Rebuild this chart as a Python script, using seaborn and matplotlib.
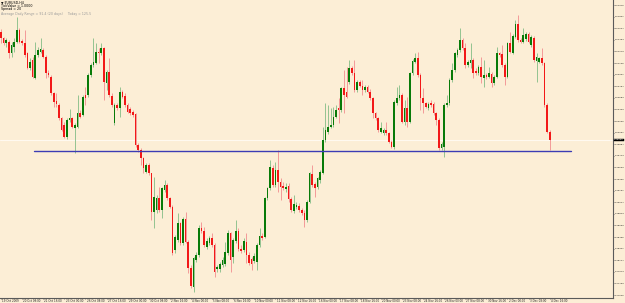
import matplotlib
matplotlib.use("Agg")
import matplotlib.pyplot as plt
import matplotlib.transforms as mtransforms
import numpy as np
import pandas as pd
import seaborn as sns

# ---------------- data (EURUSD H4 candles) ----------------
opens = [
    1.51575, 1.51475, 1.51400, 1.51425, 1.51250, 1.51340, 1.51425, 1.51600, 1.51440, 1.51400,
    1.51250, 1.51025, 1.51150, 1.50875, 1.51225, 1.51275, 1.51300, 1.51200, 1.50960, 1.50900,
    1.50650, 1.50540, 1.50475, 1.50275, 1.50175, 1.49990, 1.50250, 1.50275, 1.50125, 1.50150,
    1.50350, 1.50325, 1.50625, 1.50625, 1.50925, 1.51075, 1.51100, 1.51275, 1.51250, 1.51325,
    1.50800, 1.50975, 1.50610, 1.50200, 1.50475, 1.50425, 1.50675, 1.50610, 1.50475, 1.50410,
    1.50375, 1.50340, 1.49875, 1.49800, 1.49675, 1.49475, 1.49575, 1.49450, 1.48875, 1.48900,
    1.49075, 1.48900, 1.49200, 1.49275, 1.49075, 1.48950, 1.48300, 1.48450, 1.48700, 1.48400,
    1.48760, 1.48425, 1.48025, 1.47750, 1.48150, 1.48225, 1.48625, 1.48590, 1.48340, 1.48400,
    1.48475, 1.48375, 1.48020, 1.48010, 1.48075, 1.48090, 1.48260, 1.48560, 1.48200, 1.48440,
    1.48590, 1.48320, 1.48300, 1.48425, 1.48225, 1.48160, 1.48140, 1.48125, 1.48375, 1.48510,
    1.48490, 1.49075, 1.49225, 1.49525, 1.49275, 1.49500, 1.49325, 1.49260, 1.49220, 1.49260,
    1.49060, 1.48890, 1.48950, 1.48960, 1.48900, 1.48860, 1.48750, 1.49025, 1.49440, 1.49290,
    1.49240, 1.49350, 1.49460, 1.49950, 1.50075, 1.50150, 1.50175, 1.50300, 1.50425, 1.50400,
    1.50725, 1.50675, 1.50825, 1.51025, 1.50950, 1.50700, 1.50825, 1.50760, 1.50700, 1.50750,
    1.50675, 1.50575, 1.50350, 1.50275, 1.50075, 1.50060, 1.50100, 1.50050, 1.49925, 1.49840,
    1.50500, 1.50575, 1.50625, 1.50225, 1.50425, 1.50225, 1.50950, 1.51125, 1.51175, 1.50925,
    1.50575, 1.50500, 1.50425, 1.50510, 1.50490, 1.50350, 1.50250, 1.49825, 1.49850, 1.50470,
    1.50500, 1.50850, 1.51000, 1.51225, 1.51300, 1.51450, 1.51325, 1.51075, 1.51100, 1.51150,
    1.50990, 1.50950, 1.51040, 1.50880, 1.50920, 1.50890, 1.50940, 1.50800, 1.50890, 1.51250,
    1.51235, 1.51075, 1.50900, 1.51400, 1.51260, 1.51500, 1.51690, 1.51450, 1.51420, 1.51460,
    1.51540, 1.51375, 1.51475, 1.51140, 1.51125, 1.51175, 1.51100, 1.50475, 1.50075,
]
highs = [
    1.51610, 1.51500, 1.51475, 1.51450, 1.51425, 1.51475, 1.51800, 1.51625, 1.51460, 1.51600,
    1.51275, 1.51175, 1.51200, 1.51425, 1.51350, 1.51475, 1.51325, 1.51225, 1.51000, 1.50925,
    1.50675, 1.50650, 1.50500, 1.50300, 1.50225, 1.50275, 1.50410, 1.50300, 1.50200, 1.50625,
    1.50400, 1.50625, 1.50750, 1.50950, 1.51100, 1.51475, 1.51400, 1.51325, 1.51400, 1.51340,
    1.51000, 1.51175, 1.50650, 1.50500, 1.50500, 1.50750, 1.50700, 1.50650, 1.50500, 1.50450,
    1.50400, 1.50360, 1.49910, 1.49825, 1.49700, 1.49600, 1.49600, 1.49460, 1.49400, 1.49125,
    1.49250, 1.49250, 1.49350, 1.49300, 1.49100, 1.48975, 1.48525, 1.48850, 1.48725, 1.48800,
    1.48875, 1.48450, 1.48075, 1.48200, 1.48275, 1.48675, 1.48725, 1.48650, 1.48475, 1.48510,
    1.48550, 1.48400, 1.48075, 1.48125, 1.48200, 1.48425, 1.48600, 1.48575, 1.48475, 1.48750,
    1.48625, 1.48375, 1.48475, 1.48550, 1.48275, 1.48200, 1.48250, 1.48400, 1.48625, 1.48550,
    1.49100, 1.49250, 1.49650, 1.49575, 1.49625, 1.49800, 1.49375, 1.49325, 1.49300, 1.49300,
    1.49100, 1.49125, 1.49025, 1.49000, 1.48925, 1.48900, 1.49050, 1.49475, 1.49575, 1.49325,
    1.49400, 1.49500, 1.50150, 1.50500, 1.50475, 1.50425, 1.50450, 1.50475, 1.50575, 1.50750,
    1.51000, 1.51050, 1.51150, 1.51060, 1.51150, 1.50850, 1.50850, 1.50850, 1.50775, 1.50775,
    1.50710, 1.50600, 1.50375, 1.50300, 1.50225, 1.50125, 1.50225, 1.50075, 1.49950, 1.50550,
    1.50750, 1.50775, 1.50650, 1.50550, 1.50600, 1.50975, 1.51160, 1.51250, 1.51275, 1.50950,
    1.50725, 1.50525, 1.50525, 1.50550, 1.50525, 1.50375, 1.50275, 1.49925, 1.50500, 1.50625,
    1.50875, 1.51100, 1.51275, 1.51325, 1.51625, 1.51475, 1.51400, 1.51150, 1.51400, 1.51175,
    1.51025, 1.51075, 1.51200, 1.51150, 1.50950, 1.51050, 1.50975, 1.50925, 1.51350, 1.51275,
    1.51375, 1.51100, 1.51425, 1.51575, 1.51540, 1.51750, 1.51825, 1.51475, 1.51625, 1.51575,
    1.51575, 1.51525, 1.51510, 1.51250, 1.51200, 1.51325, 1.51125, 1.50500, 1.50100,
]
lows = [
    1.51400, 1.51375, 1.51350, 1.51175, 1.51200, 1.51275, 1.51400, 1.51400, 1.51375, 1.51200,
    1.51010, 1.51000, 1.50875, 1.50860, 1.51200, 1.51250, 1.51175, 1.50875, 1.50900, 1.50625,
    1.50450, 1.50450, 1.50250, 1.50090, 1.49975, 1.49960, 1.50225, 1.50125, 1.49750, 1.50125,
    1.50275, 1.50310, 1.50475, 1.50600, 1.50900, 1.51050, 1.51090, 1.51100, 1.51225, 1.50550,
    1.50700, 1.50600, 1.50450, 1.50175, 1.50400, 1.50300, 1.50575, 1.50450, 1.50350, 1.50325,
    1.50300, 1.49850, 1.49775, 1.49575, 1.49450, 1.49450, 1.49425, 1.48750, 1.48625, 1.48850,
    1.48875, 1.48775, 1.49175, 1.49050, 1.48925, 1.48225, 1.48250, 1.48425, 1.48375, 1.48375,
    1.48400, 1.47950, 1.47725, 1.47675, 1.48125, 1.48200, 1.48560, 1.48350, 1.48310, 1.48375,
    1.48350, 1.47900, 1.47975, 1.47975, 1.48050, 1.48060, 1.48225, 1.47975, 1.48100, 1.48400,
    1.48290, 1.48260, 1.48275, 1.48100, 1.48075, 1.48000, 1.48100, 1.48000, 1.48350, 1.48450,
    1.48475, 1.49050, 1.49200, 1.49250, 1.49250, 1.49175, 1.49050, 1.49200, 1.49175, 1.49025,
    1.48875, 1.48850, 1.48910, 1.48875, 1.48825, 1.48650, 1.48725, 1.49000, 1.49250, 1.49100,
    1.49210, 1.49300, 1.49440, 1.49925, 1.50040, 1.50125, 1.50150, 1.50275, 1.50200, 1.50375,
    1.50350, 1.50575, 1.50790, 1.50925, 1.50675, 1.50675, 1.50740, 1.50625, 1.50675, 1.50650,
    1.50550, 1.50275, 1.50250, 1.50075, 1.50050, 1.50025, 1.50025, 1.49900, 1.49825, 1.49810,
    1.50475, 1.50550, 1.50200, 1.50175, 1.50150, 1.50200, 1.50925, 1.51100, 1.50900, 1.50400,
    1.50350, 1.50425, 1.50400, 1.50450, 1.50325, 1.50175, 1.49800, 1.49800, 1.49700, 1.50450,
    1.50475, 1.50825, 1.50975, 1.51200, 1.51275, 1.51300, 1.51025, 1.51050, 1.51025, 1.50875,
    1.50925, 1.50925, 1.50800, 1.50750, 1.50860, 1.50875, 1.50750, 1.50775, 1.50875, 1.51200,
    1.51050, 1.50775, 1.50875, 1.51250, 1.51240, 1.51475, 1.51425, 1.51400, 1.51400, 1.51440,
    1.51400, 1.51350, 1.51125, 1.50825, 1.51100, 1.51075, 1.50450, 1.50050, 1.49800,
]
closes = [
    1.51475, 1.51400, 1.51450, 1.51250, 1.51375, 1.51425, 1.51600, 1.51425, 1.51400, 1.51225,
    1.51025, 1.51125, 1.50900, 1.51225, 1.51300, 1.51310, 1.51200, 1.50950, 1.50925, 1.50650,
    1.50525, 1.50490, 1.50275, 1.50100, 1.50000, 1.50250, 1.50275, 1.50150, 1.50175, 1.50350,
    1.50300, 1.50600, 1.50575, 1.50925, 1.51075, 1.51125, 1.51275, 1.51250, 1.51325, 1.50825,
    1.50975, 1.50625, 1.50475, 1.50475, 1.50425, 1.50675, 1.50600, 1.50475, 1.50375, 1.50350,
    1.50325, 1.49875, 1.49800, 1.49675, 1.49525, 1.49575, 1.49450, 1.48875, 1.49100, 1.49075,
    1.48900, 1.49225, 1.49275, 1.49075, 1.48950, 1.48250, 1.48500, 1.48700, 1.48400, 1.48760,
    1.48425, 1.48025, 1.47760, 1.48175, 1.48225, 1.48625, 1.48590, 1.48375, 1.48440, 1.48475,
    1.48375, 1.47975, 1.48050, 1.48090, 1.48150, 1.48275, 1.48560, 1.48150, 1.48450, 1.48590,
    1.48310, 1.48290, 1.48440, 1.48225, 1.48110, 1.48090, 1.48210, 1.48375, 1.48510, 1.48480,
    1.49075, 1.49225, 1.49550, 1.49275, 1.49500, 1.49325, 1.49250, 1.49225, 1.49250, 1.49060,
    1.48900, 1.48990, 1.48975, 1.48900, 1.48850, 1.48750, 1.49025, 1.49450, 1.49275, 1.49225,
    1.49375, 1.49475, 1.49950, 1.50100, 1.50150, 1.50175, 1.50300, 1.50400, 1.50400, 1.50725,
    1.50625, 1.50600, 1.51025, 1.50950, 1.50700, 1.50825, 1.50760, 1.50700, 1.50750, 1.50675,
    1.50575, 1.50350, 1.50275, 1.50100, 1.50125, 1.50100, 1.50050, 1.49925, 1.49850, 1.50525,
    1.50575, 1.50625, 1.50225, 1.50425, 1.50225, 1.50950, 1.51140, 1.51175, 1.50925, 1.50575,
    1.50500, 1.50450, 1.50490, 1.50475, 1.50350, 1.50250, 1.49825, 1.49890, 1.50475, 1.50500,
    1.50850, 1.51000, 1.51250, 1.51300, 1.51450, 1.51325, 1.51075, 1.51125, 1.51150, 1.50950,
    1.50950, 1.51040, 1.50900, 1.50920, 1.50890, 1.50950, 1.50800, 1.50890, 1.51250, 1.51225,
    1.51075, 1.50900, 1.51400, 1.51275, 1.51510, 1.51690, 1.51450, 1.51420, 1.51525, 1.51540,
    1.51425, 1.51500, 1.51150, 1.51200, 1.51175, 1.51100, 1.50475, 1.50075, 1.49950,
]
time_labels = [
    "19 Oct 2009", "20 Oct 08:00", "21 Oct 16:00", "23 Oct 00:00", "26 Oct 08:00",
    "27 Oct 16:00", "29 Oct 00:00", "30 Oct 08:00", "2 Nov 16:00", "4 Nov 00:00",
    "5 Nov 08:00", "6 Nov 16:00", "10 Nov 00:00", "11 Nov 08:00", "12 Nov 16:00",
    "16 Nov 00:00", "17 Nov 08:00", "18 Nov 16:00", "20 Nov 00:00", "23 Nov 08:00",
    "24 Nov 16:00", "26 Nov 00:00", "27 Nov 08:00", "30 Nov 16:00", "2 Dec 00:00",
    "3 Dec 08:00", "4 Dec 16:00",
]
price_ticks = [
    1.51975, 1.51801, 1.51627, 1.51453, 1.51279, 1.51105, 1.50931, 1.50757, 1.50583,
    1.50409, 1.50235, 1.50061, 1.49887, 1.49713, 1.49539, 1.49365, 1.49191, 1.49017,
    1.48843, 1.48669, 1.48495, 1.48321, 1.48147, 1.47973, 1.47799, 1.47625,
]
level_price = 1.49780          # horizontal trend line
level_from_bar, level_to_bar = 12.5, 216.0
bid_price = 1.49950
header_lines = ["\u25bc EURUSD,H4", "TickValue = 1.0000", "Spread = 20"]
info_line = "Average Daily Range = 91.4 (20 days)     Today = 125.5"

# ---------------- style ----------------
BG = "#FCEED6"
UP, DOWN = "#087A08", "#F21818"
UP_WICK, DOWN_WICK = "#8CC08C", "#F39494"
AXIS = "#5A5A5A"

sns.set_theme(style="ticks")
plt.rcParams["font.family"] = ["DejaVu Sans"]

df = pd.DataFrame({"open": opens, "high": highs, "low": lows, "close": closes})
df["bar"] = np.arange(len(df))
df["up"] = df["close"] >= df["open"]
df["body"] = (df["close"] - df["open"]).where(
    (df["close"] - df["open"]).abs() > 0.00003, 0.00003)

W, H = 625, 303
fig = plt.figure(figsize=(W / 100, H / 100), dpi=100)
fig.patch.set_facecolor(BG)
ax = fig.add_axes([0, 5 / H, 613 / W, 298 / H])
ax.set_facecolor(BG)

# bid line
ax.axhline(bid_price, color="#FFF9F0", lw=0.8, zorder=1)

# wicks
ax.vlines(df["bar"], df["low"], df["high"],
          colors=np.where(df["up"], UP_WICK, DOWN_WICK), lw=0.65, zorder=2)
# bodies
ax.bar(df["bar"], df["body"], bottom=df["open"], width=0.62,
       color=np.where(df["up"], UP, DOWN), linewidth=0, zorder=3)

# horizontal level line
sns.lineplot(x=[level_from_bar, level_to_bar], y=[level_price, level_price],
             ax=ax, color="#3C3CB4", lw=1.0, zorder=4)

ax.set_xlim(-0.38, 232.0)
ax.set_ylim(1.47580, 1.52050)

# axes
for s in ["top", "left"]:
    ax.spines[s].set_visible(False)
for s in ["right", "bottom"]:
    ax.spines[s].set_color(AXIS)
    ax.spines[s].set_linewidth(0.8)

ax.yaxis.tick_right()
ax.set_yticks(price_ticks)
ax.set_yticklabels([f"{p:.5f}" for p in price_ticks])
ax.tick_params(axis="y", labelsize=1.7, pad=0.4, length=1.0, width=0.5,
               color=AXIS, labelcolor="#222222")

ax.set_xticks(np.arange(0, len(df), 8))
ax.set_xticklabels(time_labels, ha="left")
ax.tick_params(axis="x", labelsize=2.0, pad=0.0, length=1.0, width=0.5,
               color=AXIS, labelcolor="#222222")
offset = mtransforms.ScaledTranslation(1.2 / 100, 0, fig.dpi_scale_trans)
for lbl in ax.get_xticklabels():
    lbl.set_transform(lbl.get_transform() + offset)
ax.set_xlabel("")
ax.set_ylabel("")

# current price box
trans = mtransforms.blended_transform_factory(ax.transAxes, ax.transData)
ax.text(1.0 + 1.2 / 613, bid_price, f"{bid_price:.5f}", transform=trans,
        fontsize=1.7, color="white", ha="left", va="center", clip_on=False,
        bbox=dict(boxstyle="square,pad=0.15", fc="black", ec="black", lw=0.3),
        zorder=6)

# header texts
ys = [2.2, 5.8, 9.4]
for t, y in zip(header_lines, ys):
    fig.text(1 / W, 1 - y / H, t, fontsize=2.3, color="black", ha="left", va="center")
fig.text(1 / W, 1 - 14 / H, info_line, fontsize=2.3, color="#9A9A9A",
         ha="left", va="center")

fig.savefig("out.png", dpi=100, facecolor=BG)
